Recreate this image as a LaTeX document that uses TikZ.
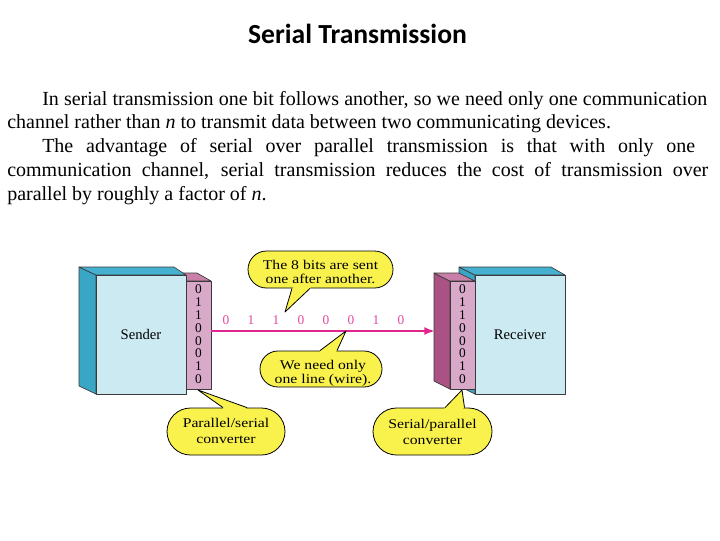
\documentclass[tikz,border=0pt]{standalone}
\usepackage{fontspec}
\setmainfont{Liberation Serif}
\newfontfamily\titlefont{Carlito}
\newfontfamily\bubfont[FakeStretch=1.18]{Liberation Serif}
\usetikzlibrary{shapes.geometric,shapes.misc,arrows.meta}
\definecolor{bfront}{HTML}{CBEAF2}
\definecolor{bside}{HTML}{3AA6C6}
\definecolor{btop}{HTML}{46B0D0}
\definecolor{pfront}{HTML}{D8A9C9}
\definecolor{pside}{HTML}{AA5283}
\definecolor{ptop}{HTML}{C880A8}
\definecolor{wire}{HTML}{E0268E}
\definecolor{bub}{HTML}{FAF24C}
\definecolor{edge}{HTML}{3A3A3A}
\begin{document}
\begin{tikzpicture}[x=0.75pt,y=-0.75pt,
  face/.style={draw=edge,line width=0.5pt,line join=round},
  frontbox/.style={face,rectangle,inner sep=0pt,font=\fontsize{11}{11}\selectfont},
  bubble/.style={rounded rectangle,fill=bub,draw=black,line width=0.6pt,inner sep=0pt},
  bubtext/.style={align=center,font=\bubfont\fontsize{10}{10.5}\selectfont,inner sep=0pt},
  bubtextb/.style={align=center,font=\bubfont\fontsize{10}{12}\selectfont,inner sep=0pt},
  bitlabel/.style={font=\fontsize{10}{10}\selectfont,inner sep=0pt},
  linebit/.style={font=\fontsize{10}{10}\selectfont,inner sep=0pt,text=wire!85},
  bodyline/.style={anchor=base west,inner sep=0pt,font=\fontsize{15}{18}\selectfont},
  wireline/.style={draw=wire,line width=1.5pt,-{Latex[length=8pt,width=6pt]}},
  pointerline/.style={draw=black,line width=0.6pt,line join=round}
]
\useasboundingbox (0,0) rectangle (720,540);

% title
\node[anchor=base,inner sep=0pt,font=\titlefont\bfseries\fontsize{20.7}{24}\selectfont] (title) at (357.5,43) {Serial Transmission};

% body text
\node[bodyline] (l1) at (42,105) {\makebox[498.75pt][s]{In serial transmission one bit follows another, so we need only one communication}};
\node[bodyline] (l2) at (7,128) {channel rather than \textit{n} to transmit data between two communicating devices.};
\node[bodyline] (l3) at (42,152) {\makebox[489.75pt][s]{The advantage of serial over parallel transmission is that with only one}};
\node[bodyline] (l4) at (7,176) {\makebox[525.75pt][s]{communication channel, serial transmission reduces the cost of transmission over}};
\node[bodyline] (l5) at (7,200) {parallel by roughly a factor of \textit{n}.};

% sender converter
\filldraw[face,fill=ptop] (172,273) -- (197,273) -- (211,281) -- (186,281) -- cycle;
\node[frontbox,fill=pfront,minimum width=18.75pt,minimum height=81pt] (sconv) at (198.5,335) {};
% sender box
\filldraw[face,fill=bside] (79,267) -- (96,275) -- (96,394) -- (79,386) -- cycle;
\filldraw[face,fill=btop] (79,267) -- (174,267) -- (186,275) -- (96,275) -- cycle;
\node[frontbox,fill=bfront,minimum width=67.5pt,minimum height=89.25pt] (sender) at (141,334.5) {Sender};

% receiver box
\filldraw[face,fill=bside] (459,267) -- (475,275) -- (475,394) -- (459,386) -- cycle;
\filldraw[face,fill=btop] (459,267) -- (551,267) -- (565,275) -- (475,275) -- cycle;
\node[frontbox,fill=bfront,minimum width=67.5pt,minimum height=89.25pt] (receiver) at (520,334.5) {Receiver};
% receiver converter
\filldraw[face,fill=pside] (434,273) -- (450,281) -- (450,389) -- (434,381) -- cycle;
\filldraw[face,fill=ptop] (434,273) -- (459,273) -- (475,281) -- (450,281) -- cycle;
\node[frontbox,fill=pfront,minimum width=18.75pt,minimum height=81pt] (rconv) at (462.5,335) {};

% bits in converters
\foreach \b [count=\i from 0] in {0,1,1,0,0,0,1,0} {
  \node[bitlabel] (sb\i) at (198.5,289.3+12.86*\i) {\b};
  \node[bitlabel] (rb\i) at (462.5,289.3+12.86*\i) {\b};
}

% wire
\draw[wireline] ([yshift=3pt]sconv.east) -- ([xshift=-11pt,yshift=3pt]rconv.west);
\foreach \b [count=\i from 0] in {0,1,1,0,0,0,1,0} {
  \node[linebit] (wb\i) at (226+25*\i,320) {\b};
}

% bubble 1
\coordinate (tip1) at (285,312);
\node[bubble,minimum width=108.75pt,minimum height=27.75pt] (b1) at (320.5,269.5) {};
\fill[bub] ([xshift=-21.4pt]b1.south) -- (tip1) -- ([xshift=-7.9pt]b1.south) -- (b1.center) -- cycle;
\draw[pointerline] ([xshift=-21.4pt]b1.south) -- (tip1) -- ([xshift=-7.9pt]b1.south);
\node[bubtext] (t1) at (320.5,271.5) {The 8 bits are sent\\one after another.};

% bubble 2
\coordinate (tip2) at (346,331);
\node[bubble,minimum width=91.5pt,minimum height=27pt] (b2) at (321,369) {};
\fill[bub] ([xshift=-0.75pt]b2.north) -- (tip2) -- ([xshift=12pt]b2.north) -- (b2.center) -- cycle;
\draw[pointerline] ([xshift=-0.75pt]b2.north) -- (tip2) -- ([xshift=12pt]b2.north);
\node[bubtext] (t2) at (323,373.5) {We need only\\one line (wire).};

% bubble 3
\coordinate (tip3) at (198,390);
\node[bubble,minimum width=88.5pt,minimum height=35.25pt] (b3) at (226,431.5) {};
\fill[bub] ([xshift=-2.25pt]b3.north) -- (tip3) -- ([xshift=15.75pt]b3.north) -- (b3.center) -- cycle;
\draw[pointerline] ([xshift=-2.25pt]b3.north) -- (tip3) -- ([xshift=15.75pt]b3.north);
\node[bubtextb] (t3) at (226,431) {Parallel/serial\\converter};

% bubble 4
\coordinate (tip4) at (462,390);
\node[bubble,minimum width=89.25pt,minimum height=35.25pt] (b4) at (432.5,431.5) {};
\fill[bub] ([xshift=9.4pt]b4.north) -- (tip4) -- ([xshift=24pt]b4.north) -- (b4.center) -- cycle;
\draw[pointerline] ([xshift=9.4pt]b4.north) -- (tip4) -- ([xshift=24pt]b4.north);
\node[bubtextb] (t4) at (432.5,432) {Serial/parallel\\converter};
\end{tikzpicture}
\end{document}
